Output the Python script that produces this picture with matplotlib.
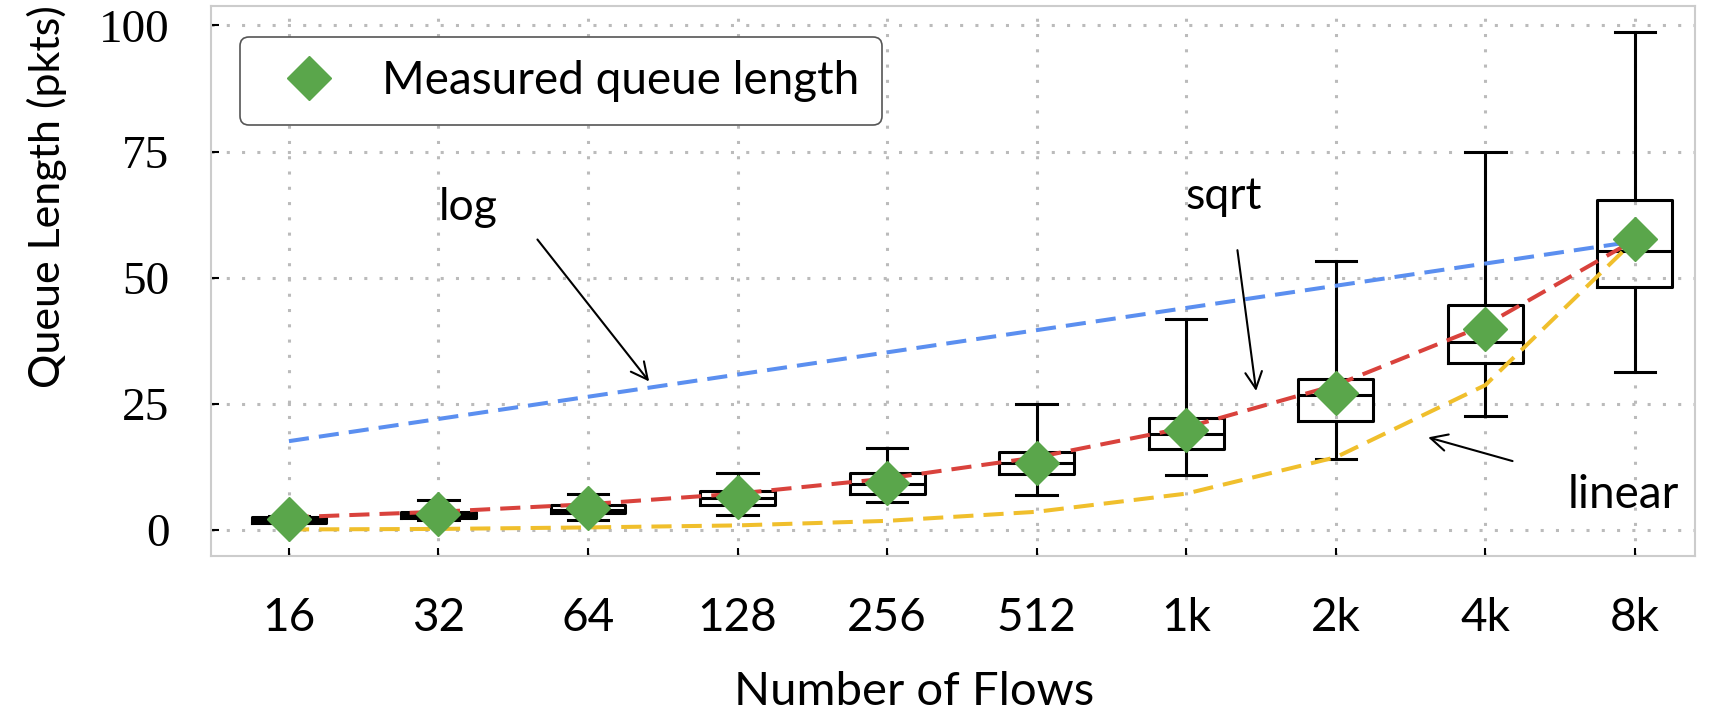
import numpy as np
import matplotlib.pyplot as plt

# x categories
flows = ['16', '32', '64', '128', '256', '512', '1k', '2k', '4k', '8k']

# box stats (pkts)
whislo = [1.4, 2.0, 2.0, 2.9, 5.5, 7.0, 10.8, 14.1, 22.5, 31.3]
q1 = [1.4, 2.3, 3.3, 4.9, 7.2, 11.0, 16.1, 21.5, 33.0, 48.2]
med = [2.0, 2.9, 4.0, 6.4, 9.2, 13.2, 19.1, 26.7, 37.3, 55.3]
q3 = [2.6, 3.6, 4.9, 7.8, 11.2, 15.5, 22.2, 30.0, 44.5, 65.3]
whishi = [2.8, 5.9, 7.2, 11.2, 16.3, 25.0, 41.9, 53.3, 75.0, 98.7]
mean_q = [2.2, 3.2, 4.4, 6.6, 9.4, 13.3, 19.8, 27.2, 39.9, 57.6]

# model curves
log_fit = [17.6, 22.0, 26.4, 30.8, 35.2, 39.6, 44.0, 48.4, 52.8, 57.2]
sqrt_fit = [2.5, 3.6, 5.1, 7.2, 10.2, 14.4, 20.3, 28.7, 40.6, 57.5]
linear_fit = [0.1, 0.2, 0.5, 0.9, 1.8, 3.6, 7.2, 14.4, 28.7, 57.5]

sans = ['Lato', 'DejaVu Sans']
serif = ['Liberation Serif', 'DejaVu Serif']

fig = plt.figure(figsize=(17.17, 7.17), dpi=100)
ax = fig.add_axes([0.123, 0.225, 0.864, 0.767])
x = np.arange(len(flows))

stats = []
for i in range(len(flows)):
    stats.append({'whislo': whislo[i], 'q1': q1[i], 'med': med[i],
                  'q3': q3[i], 'whishi': whishi[i], 'fliers': []})
ax.bxp(stats, positions=x, widths=0.5, showfliers=False,
       boxprops=dict(color='black', linewidth=2.2),
       medianprops=dict(color='black', linewidth=2.2),
       whiskerprops=dict(color='black', linewidth=2.2),
       capprops=dict(color='black', linewidth=2.2), capwidths=0.27)

ax.plot(x, log_fit, '--', color='#5b8ff0', linewidth=2.9, dashes=(5, 2.5), zorder=3)
ax.plot(x, sqrt_fit, '--', color='#d9423c', linewidth=2.9, dashes=(5, 2.5), zorder=3)
ax.plot(x, linear_fit, '--', color='#f0bf2c', linewidth=2.9, dashes=(5, 2.5), zorder=3)
ax.plot(x, mean_q, 'D', color='#5aa64b', markersize=22, linestyle='none',
        zorder=4, label='Measured queue length')

arrow = dict(arrowstyle='->', color='black', lw=1.5, mutation_scale=30)
ax.text(1.2, 64, 'log', fontsize=32, family=sans, ha='center', va='center')
ax.annotate('', xy=(2.42, 29), xytext=(1.65, 58), arrowprops=arrow)
ax.text(6.25, 66, 'sqrt', fontsize=32, family=sans, ha='center', va='center')
ax.annotate('', xy=(6.47, 27), xytext=(6.34, 56), arrowprops=arrow)
ax.text(8.92, 7, 'linear', fontsize=33, family=sans, ha='center', va='center')
ax.annotate('', xy=(7.6, 18.5), xytext=(8.2, 13.5), arrowprops=arrow)

ax.set_xlim(-0.52, 9.4)
ax.set_ylim(-5.1, 103.9)
ax.set_xticks(x)
ax.set_xticklabels(flows, family=sans, fontsize=33)
ax.set_yticks([0, 25, 50, 75, 100])
ax.set_yticklabels(['0', '25', '50', '75', '100'], family=serif, fontsize=34)
ax.tick_params(direction='in', length=6, width=1.5)
ax.tick_params(axis='y', pad=30)
ax.tick_params(axis='x', pad=30)
ax.grid(True, linestyle=(0, (1, 4)), color='#bbbbbb', linewidth=2.2)
ax.set_axisbelow(True)
for s in ax.spines.values():
    s.set_color('#cccccc')
    s.set_linewidth(1.5)

ax.set_xlabel('Number of Flows', family=sans, fontsize=34)
ax.xaxis.set_label_coords(0.474, -0.21)
ax.set_ylabel('Queue Length (pkts)', family=sans, fontsize=31)
ax.yaxis.set_label_coords(-0.097, 0.652)

leg = ax.legend(loc='upper left', prop={'family': sans, 'size': 33},
                fancybox=True, framealpha=1, edgecolor='#555555',
                borderpad=0.5, handletextpad=0.6, bbox_to_anchor=(0.004, 0.985))
leg.get_frame().set_linewidth(1.2)

fig.savefig('out.png', dpi=100)
